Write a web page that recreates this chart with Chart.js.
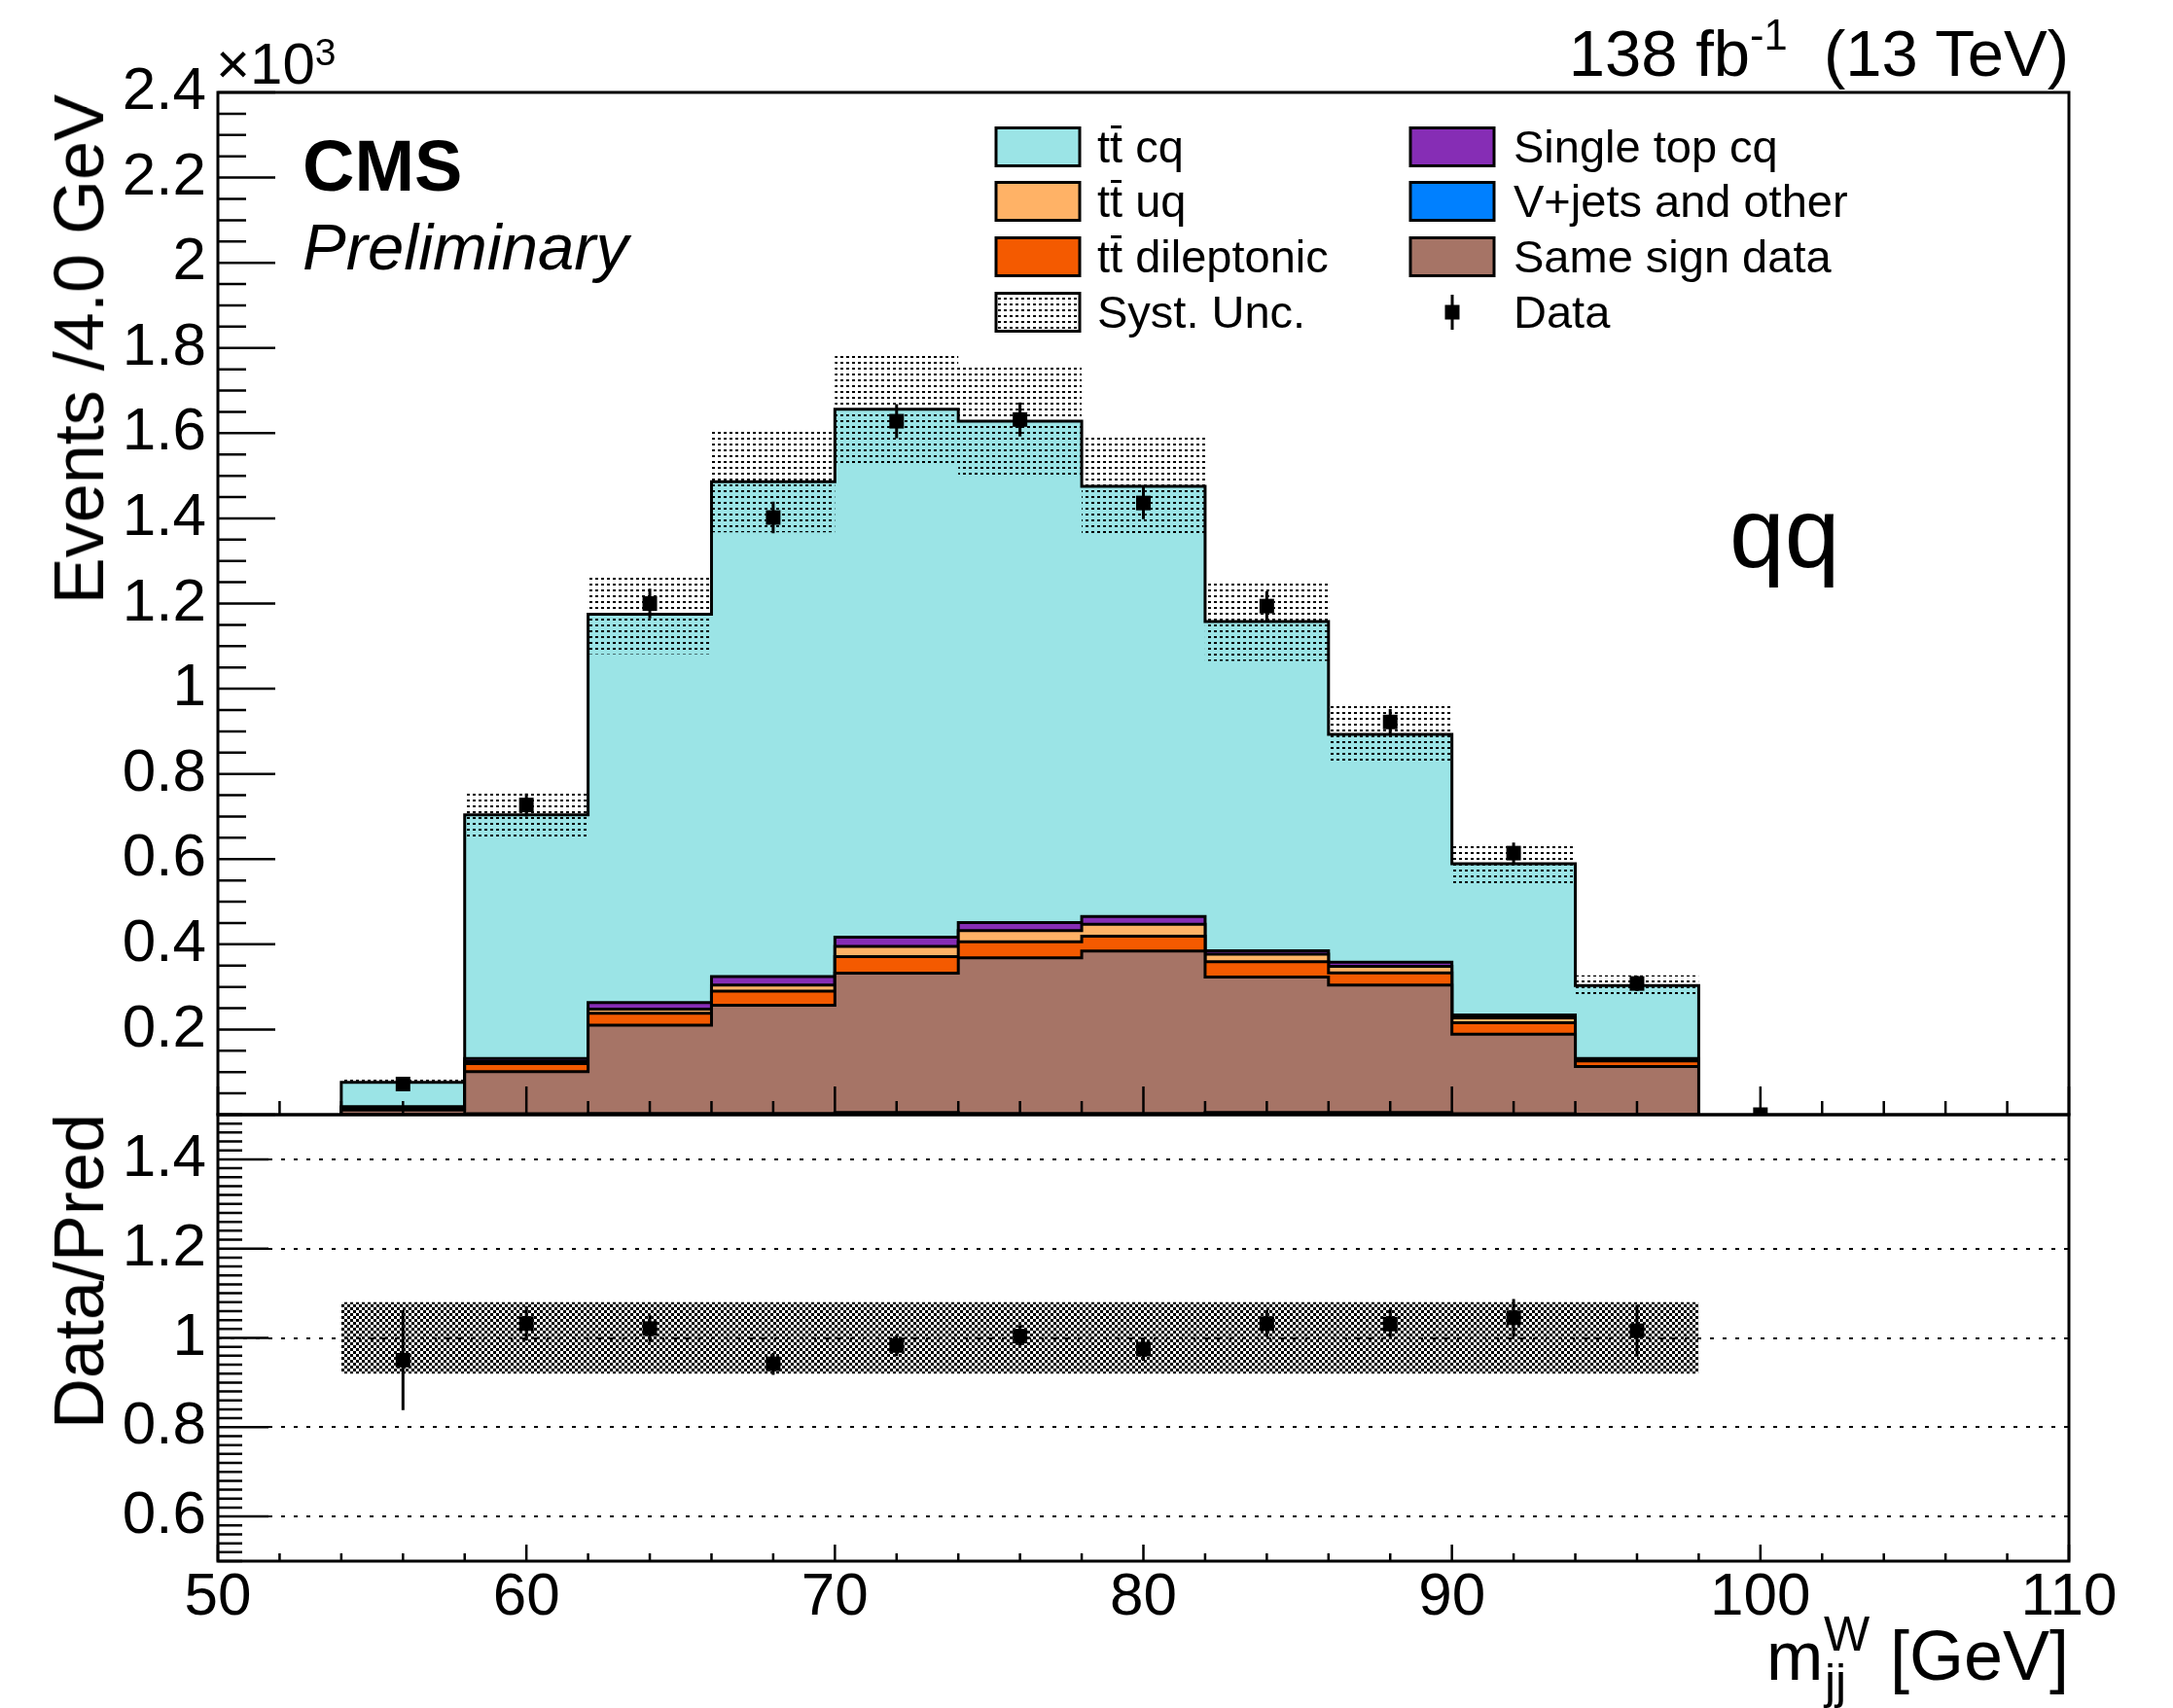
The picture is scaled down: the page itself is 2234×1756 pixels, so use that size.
<!DOCTYPE html>
<html>
<head>
<meta charset="utf-8">
<title>m_jj^W qq</title>
<script src="https://cdn.jsdelivr.net/npm/chart.js@4.4.0/dist/chart.umd.min.js"></script>
<style>
  html, body { margin: 0; padding: 0; background: #fff; }
  #wrap { position: relative; width: 2234px; height: 1756px; overflow: hidden;
          font-family: 'Liberation Sans', Arial, sans-serif; color: #000; }
  #wrap canvas { position: absolute; left: 0; top: 0; }
  .t { position: absolute; white-space: nowrap; line-height: 1; }
  .tb { position: relative; display: inline-block; }
  .tb::after { content: ''; position: absolute; left: 0.02em; right: 0.02em; top: 0.03em;
               height: 0.075em; background: #000; }
</style>
</head>
<body>
<div id="wrap">
  <canvas id="main" width="2234" height="1756"></canvas>
  <canvas id="ratio" width="2234" height="1756"></canvas>
</div>
<script>
// ---- data (events per 4 GeV bin) ----
const binEdges   = [54, 58, 62, 66, 70, 74, 78, 82, 86, 90, 94, 98];

// stack, from bottom to top
const vjets    = [1, 2, 3, 3, 5, 3, 3, 5, 5, 2, 1];
const sameSign = [10, 99, 207, 254, 327, 365, 381, 318, 299, 187, 112];
const ttDilep  = [4, 19, 28, 33, 39, 38, 35, 36, 29, 27, 13];
const ttUq     = [2, 5, 10, 14, 24, 26, 28, 18, 15, 11, 3];
const stopCq   = [2, 7, 15, 20, 22, 19, 18, 8, 10, 7, 3];
const ttCq     = [57, 572, 912, 1162, 1239, 1177, 1010, 773, 535, 355, 171];
const systUnc  = [6, 55, 94, 119, 131, 128, 118, 93, 71, 47, 24];

const dataX    = [56, 60, 64, 68, 72, 76, 80, 84, 88, 92, 96, 100];
const dataY    = [72, 727, 1200, 1402, 1628, 1632, 1436, 1194, 922, 614, 308, 0];
const dataErr  = [8, 27, 35, 37, 40, 40, 38, 35, 30, 25, 18, 0];

const ratioX   = [56, 60, 64, 68, 72, 76, 80, 84, 88, 92, 96];
const ratioY   = [0.950, 1.032, 1.021, 0.942, 0.983, 1.004, 0.975, 1.032, 1.031, 1.045, 1.016];
const ratioErr = [0.112, 0.038, 0.030, 0.025, 0.024, 0.025, 0.026, 0.030, 0.034, 0.042, 0.058];
const ratioUnc = [0.08, 0.08, 0.08, 0.08, 0.08, 0.08, 0.08, 0.08, 0.08, 0.08, 0.08];

// tick labels
const yTickValues = [200, 400, 600, 800, 1000, 1200, 1400, 1600, 1800, 2000, 2200, 2400];
const yTickLabels = ['0.2', '0.4', '0.6', '0.8', '1', '1.2', '1.4', '1.6', '1.8', '2', '2.2', '2.4'];
const rTickValues = [0.6, 0.8, 1, 1.2, 1.4];
const rTickLabels = ['0.6', '0.8', '1', '1.2', '1.4'];
const xTickValues = [50, 60, 70, 80, 90, 100, 110];
const xTickLabels = ['50', '60', '70', '80', '90', '100', '110'];

// colours
const COL = {
  ttCq: '#9be4e6', ttUq: '#ffb266', ttDilep: '#f45a00',
  stopCq: '#862db5', vjets: '#0080ff', sameSign: '#a67466'
};

// frame of the two pads (px)
const W = 2234, H = 1756;
const PAD = { left: 224, right: 2127, top: 95, split: 1146, bottom: 1605 };

Chart.defaults.font.family = "'Liberation Sans', Arial, sans-serif";
Chart.defaults.color = '#000';

// step outline of a histogram, closed down to zero at both ends
function histLine(vals) {
  const pts = [{ x: binEdges[0], y: 0 }];
  vals.forEach((v, i) => pts.push({ x: binEdges[i], y: v }));
  pts.push({ x: binEdges[vals.length], y: 0 });
  return pts;
}
// step line without the drop to zero (for bands)
function bandLine(vals) {
  const pts = vals.map((v, i) => ({ x: binEdges[i], y: v }));
  pts.push({ x: binEdges[vals.length], y: vals[vals.length - 1] });
  return pts;
}

function tile(w, h, rects) {
  const c = document.createElement('canvas');
  c.width = w; c.height = h;
  const g = c.getContext('2d');
  g.fillStyle = '#000';
  rects.forEach(r => g.fillRect(r[0], r[1], r[2], r[3]));
  return c;
}

const mainCtx = document.getElementById('main').getContext('2d');
const ratioCtx = document.getElementById('ratio').getContext('2d');
const systPattern = mainCtx.createPattern(tile(6, 6, [[0, 0, 3, 2]]), 'repeat');
const ratioPattern = ratioCtx.createPattern(tile(6, 6, [[0, 0, 3, 3], [3, 3, 3, 3]]), 'repeat');

// ROOT style inner ticks, frame and error bars
function axesPlugin(cfg) {
  return {
    id: 'rootAxes',
    afterDatasetsDraw(chart) {
      const { ctx, chartArea: a } = chart;
      const x = chart.scales.x, y = chart.scales.y;
      ctx.save();
      ctx.strokeStyle = '#000';
      if (cfg.bars) {
        ctx.lineWidth = 3;
        ctx.beginPath();
        cfg.bars.xs.forEach((xv, i) => {
          const e = cfg.bars.err[i];
          if (!e) return;
          const px = x.getPixelForValue(xv);
          ctx.moveTo(px, y.getPixelForValue(cfg.bars.ys[i] - e));
          ctx.lineTo(px, y.getPixelForValue(cfg.bars.ys[i] + e));
        });
        ctx.stroke();
      }
      ctx.lineWidth = 2.5;
      ctx.beginPath();
      for (let i = 0; i <= cfg.yCount; i++) {
        const py = y.getPixelForValue(cfg.yFrom + i * cfg.yStep);
        const len = (i - cfg.yPhase) % cfg.yEvery === 0 ? cfg.yMajor : cfg.yMinor;
        ctx.moveTo(a.left, py); ctx.lineTo(a.left + len, py);
      }
      for (let i = 0; i <= 30; i++) {
        const px = x.getPixelForValue(50 + i * 2);
        const len = i % 5 === 0 ? cfg.xMajor : cfg.xMinor;
        ctx.moveTo(px, a.bottom); ctx.lineTo(px, a.bottom - len);
      }
      ctx.stroke();
      ctx.lineWidth = 3;
      ctx.strokeRect(a.left, a.top, a.right - a.left, a.bottom - a.top);
      ctx.restore();
    }
  };
}

// legend boxes (labels are html, below)
const LEG_X = [1024, 1450], LEG_Y = [151, 207, 264, 321], BOX_W = 86, BOX_H = 39;
const legendEntries = [
  { html: 't<span class="tb">t</span> cq',         fill: COL.ttCq,     col: 0, row: 0 },
  { html: 't<span class="tb">t</span> uq',         fill: COL.ttUq,     col: 0, row: 1 },
  { html: 't<span class="tb">t</span> dileptonic', fill: COL.ttDilep,  col: 0, row: 2 },
  { html: 'Syst. Unc.',                            fill: 'hatch',      col: 0, row: 3 },
  { html: 'Single top cq',                         fill: COL.stopCq,   col: 1, row: 0 },
  { html: 'V+jets and other',                      fill: COL.vjets,    col: 1, row: 1 },
  { html: 'Same sign data',                        fill: COL.sameSign, col: 1, row: 2 },
  { html: 'Data',                                  fill: 'marker',     col: 1, row: 3 }
];
const legendPlugin = {
  id: 'legendBoxes',
  afterDraw(chart) {
    const ctx = chart.ctx;
    ctx.save();
    legendEntries.forEach(e => {
      const x = LEG_X[e.col], cy = LEG_Y[e.row];
      if (e.fill === 'marker') {
        const mx = x + BOX_W / 2;
        ctx.fillStyle = '#000';
        ctx.fillRect(mx - 7.5, cy - 7.5, 15, 15);
        ctx.lineWidth = 3;
        ctx.beginPath(); ctx.moveTo(mx, cy - 18); ctx.lineTo(mx, cy + 18); ctx.stroke();
        return;
      }
      ctx.fillStyle = e.fill === 'hatch' ? '#fff' : e.fill;
      ctx.fillRect(x, cy - BOX_H / 2, BOX_W, BOX_H);
      if (e.fill === 'hatch') {
        ctx.fillStyle = systPattern;
        ctx.fillRect(x, cy - BOX_H / 2, BOX_W, BOX_H);
      }
      ctx.strokeStyle = '#000';
      ctx.lineWidth = 3;
      ctx.strokeRect(x, cy - BOX_H / 2, BOX_W, BOX_H);
    });
    ctx.restore();
  }
};

// ---- upper pad: stacked histogram ----
const layers = [
  { label: 'V+jets and other', vals: vjets,    color: COL.vjets },
  { label: 'Same sign data',   vals: sameSign, color: COL.sameSign },
  { label: 'tt dileptonic',    vals: ttDilep,  color: COL.ttDilep },
  { label: 'tt uq',            vals: ttUq,     color: COL.ttUq },
  { label: 'Single top cq',    vals: stopCq,   color: COL.stopCq },
  { label: 'tt cq',            vals: ttCq,     color: COL.ttCq }
];
let running = vjets.map(() => 0);
const stackSets = layers.map((l, k) => {
  running = running.map((r, i) => r + l.vals[i]);
  return {
    label: l.label,
    data: histLine(running),
    stepped: true,
    fill: k === 0 ? 'origin' : '-1',
    backgroundColor: l.color,
    borderColor: '#000',
    borderWidth: 3,
    pointRadius: 0,
    order: 3
  };
});
const total = running;

new Chart(mainCtx, {
  type: 'line',
  data: {
    datasets: stackSets.concat([
      { label: 'syst lo', data: bandLine(total.map((t, i) => t - systUnc[i])), stepped: true,
        borderWidth: 0, pointRadius: 0, fill: false, order: 2 },
      { label: 'Syst. Unc.', data: bandLine(total.map((t, i) => t + systUnc[i])), stepped: true,
        borderWidth: 0, pointRadius: 0, fill: '-1', backgroundColor: systPattern, order: 2 },
      { label: 'Data', data: dataX.map((x, i) => ({ x, y: dataY[i] })), showLine: false,
        pointStyle: 'rect', pointRadius: 10.6, pointBorderWidth: 0,
        pointBackgroundColor: '#000', order: 0 }
    ])
  },
  options: {
    responsive: false, maintainAspectRatio: false, devicePixelRatio: 1,
    animation: false, events: [],
    layout: { padding: { left: 0, right: W - PAD.right, top: PAD.top, bottom: H - PAD.split } },
    plugins: { legend: { display: false }, tooltip: { enabled: false } },
    scales: {
      x: { type: 'linear', min: 50, max: 110, display: false },
      y: {
        min: 0, max: 2400,
        afterFit: s => { s.width = PAD.left; },
        afterBuildTicks: s => { s.ticks = yTickValues.map(v => ({ value: v })); },
        grid: { display: false, drawTicks: false },
        border: { display: false },
        ticks: { autoSkip: false, padding: 12, font: { size: 62 },
                 callback: (v, i) => yTickLabels[i] }
      }
    }
  },
  plugins: [axesPlugin({
    bars: { xs: dataX, ys: dataY, err: dataErr },
    yFrom: 0, yStep: 50, yCount: 48, yEvery: 4, yPhase: 0, yMajor: 59, yMinor: 29,
    xMajor: 29, xMinor: 14
  }), legendPlugin]
});

// ---- lower pad: data / prediction ----
new Chart(ratioCtx, {
  type: 'line',
  data: {
    datasets: [
      { label: 'unc lo', data: bandLine(ratioUnc.map(u => 1 - u)), stepped: true,
        borderWidth: 0, pointRadius: 0, fill: false, order: 2 },
      { label: 'unc hi', data: bandLine(ratioUnc.map(u => 1 + u)), stepped: true,
        borderWidth: 0, pointRadius: 0, fill: '-1', backgroundColor: ratioPattern, order: 2 },
      { label: 'Data/Pred', data: ratioX.map((x, i) => ({ x, y: ratioY[i] })), showLine: false,
        pointStyle: 'rect', pointRadius: 10.6, pointBorderWidth: 0,
        pointBackgroundColor: '#000', order: 0 }
    ]
  },
  options: {
    responsive: false, maintainAspectRatio: false, devicePixelRatio: 1,
    animation: false, events: [],
    layout: { padding: { left: 0, right: W - PAD.right, top: PAD.split, bottom: 0 } },
    plugins: { legend: { display: false }, tooltip: { enabled: false } },
    scales: {
      x: {
        type: 'linear', min: 50, max: 110,
        afterFit: s => { s.height = H - PAD.bottom; },
        afterBuildTicks: s => { s.ticks = xTickValues.map(v => ({ value: v })); },
        grid: { display: false, drawTicks: false },
        border: { display: false },
        ticks: { autoSkip: false, maxRotation: 0, padding: 1, font: { size: 62 },
                 callback: (v, i) => xTickLabels[i] }
      },
      y: {
        min: 0.5, max: 1.5,
        afterFit: s => { s.width = PAD.left; },
        afterBuildTicks: s => { s.ticks = rTickValues.map(v => ({ value: v })); },
        grid: { color: '#000', lineWidth: 2, drawTicks: false },
        border: { display: false, dash: [4, 9] },
        ticks: { autoSkip: false, padding: 12, font: { size: 62 },
                 callback: (v, i) => rTickLabels[i] }
      }
    }
  },
  plugins: [axesPlugin({
    bars: { xs: ratioX, ys: ratioY, err: ratioErr },
    yFrom: 0.5, yStep: 0.02, yCount: 50, yEvery: 10, yPhase: 5, yMajor: 52, yMinor: 25,
    xMajor: 17, xMinor: 8
  })]
});

// ---- text ----
const wrap = document.getElementById('wrap');
function addText(html, x, base, size, opt) {
  opt = opt || {};
  const d = document.createElement('div');
  d.className = 't';
  d.innerHTML = html;
  d.style.fontSize = size + 'px';
  if (opt.bold) d.style.fontWeight = 'bold';
  if (opt.italic) d.style.fontStyle = 'italic';
  const asc = 0.8465 * size;
  if (opt.rotate) {
    // x = baseline position, base = y of the end of the text
    d.style.left = '0px'; d.style.top = '0px';
    d.style.transformOrigin = '0 0';
    d.style.transform = `translate(${x}px, ${base}px) rotate(-90deg) translate(-100%, ${-asc}px)`;
  } else if (opt.right) {
    d.style.right = (W - x) + 'px'; d.style.top = (base - asc) + 'px';
  } else {
    d.style.left = x + 'px'; d.style.top = (base - asc) + 'px';
  }
  wrap.appendChild(d);
}

addText('×10<span style="font-size:0.65em;position:relative;top:-0.5em">3</span>', 222, 87, 60);
addText('138 fb<span style="font-size:0.65em;position:relative;top:-0.62em">-1</span>&nbsp; (13 TeV)', 2127, 78, 67, { right: true });
addText('CMS', 311, 197, 74, { bold: true });
addText('Preliminary', 311, 277, 67, { italic: true });
addText('qq', 1778, 583, 102);
addText('Events /4.0 GeV', 106, 97, 72, { rotate: true });
addText('Data/Pred', 106, 1145, 72, { rotate: true });
addText('m', 1816, 1727, 70);
addText('W', 1875, 1697, 50);
addText('jj', 1876, 1746, 50);
addText('[GeV]', 2127, 1727, 72, { right: true });
legendEntries.forEach(e => {
  addText(e.html, e.col === 0 ? 1128 : 1556, LEG_Y[e.row] + 16, 47);
});
</script>
</body>
</html>
